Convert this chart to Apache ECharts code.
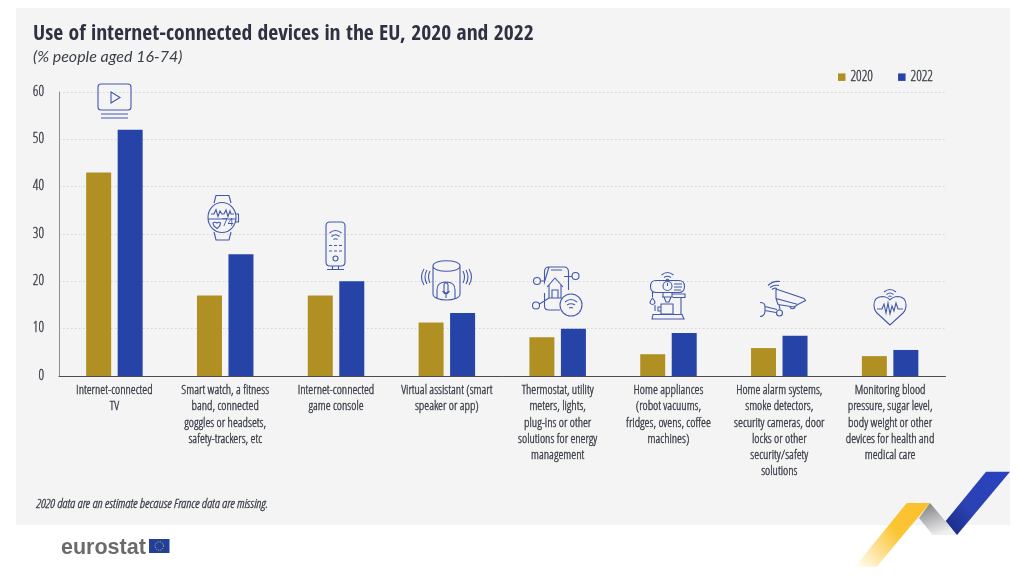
<!DOCTYPE html>
<html><head><meta charset="utf-8">
<style>html,body{margin:0;padding:0;background:#fff}#c{width:1031px;height:581px}</style>
<script src="https://cdn.jsdelivr.net/npm/echarts@6/dist/echarts.min.js"></script>
</head><body><div id="c"></div>
<script>
const categories = [
 "Internet-connected\nTV",
 "Smart watch, a fitness\nband, connected\ngoggles or headsets,\nsafety-trackers, etc",
 "Internet-connected\ngame console",
 "Virtual assistant (smart\nspeaker or app)",
 "Thermostat, utility\nmeters, lights,\nplug-ins or other\nsolutions for energy\nmanagement",
 "Home appliances\n(robot vacuums,\nfridges, ovens, coffee\nmachines)",
 "Home alarm systems,\nsmoke detectors,\nsecurity cameras, door\nlocks or other\nsecurity/safety\nsolutions",
 "Monitoring blood\npressure, sugar level,\nbody weight or other\ndevices for health and\nmedical care"
];
const values2020 = [43, 17, 17, 11.3, 8.2, 4.6, 5.9, 4.2];
const values2022 = [52, 25.7, 20, 13.3, 10, 9.1, 8.5, 5.5];
const BOLD = '"Open Sans Condensed","Roboto Condensed","Liberation Sans",sans-serif';
const FONT = '"Open Sans Condensed Light","Roboto Condensed","Liberation Sans",sans-serif';
const INK = '#3a3e47', ICON = '#4358ad';
const weight = {textBorderColor:INK,textBorderWidth:0.35};

const iconPaths = [
 'M101 84H128Q131 84 131 87V107Q131 110 128 110H101Q98 110 98 107V87Q98 84 101 84ZM111 92L120 97.5L111 103ZM101 114H128M101 118H128',
 'M236 217.5A14 15 0 1 1 208 217.5A14 15 0 1 1 236 217.5ZM214 203L216 195.5H229L231 203M214 232L216 240H229L231 232M236 214H238.5V222H236M208.5 219H235.5M211 214H214L216 209.5L218 216.5L220 211L222 214H224L226 210L228 216.5L230 211L231 214H234M213 223Q215 221.5 217 223Q219 221.5 220.5 223Q220.5 226 217 228.5Q213 226 213 223Z',
 'M330 222H341Q345 222 345 226V262Q345 266 341 266H330Q326 266 326 262V226Q326 222 330 222ZM329.5 233Q335.5 228 341.5 233M331.5 236.5Q335.5 233 339.5 236.5M333.500 239.5Q335.5 238 337.5 239.5M329 245.5H332M334 245.5H337M339 245.5H342M329 251H332M334 251H337M339 251H342M338 258.5A2.5 2.5 0 1 1 333 258.5A2.5 2.5 0 1 1 338 258.5ZM332.5 266V269M338.5 266V269M327 269.500H344',
 'M433 266C433 259 460 259 460 266V294C460 302 433 302 433 294ZM433 266C433 273 460 273 460 266M437 299V290Q437 282 446 282Q455 282 455 290V299M444 285Q444 283 446 283Q448 283 448 285V291Q448 293 446 293Q444 293 444 291ZM442.5 291Q446 297 449.5 291M446 294V298M430 271Q427 277 430 283M427 270Q423 277 427 284M424 269Q419 277 424 285M463 271Q466 277 463 283M466 270Q470 277 466 284M469 269Q474 277 469 285',
 'M549 267H564Q568.5 267 568.5 272V290M544.5 282V272Q544.5 267 549 267ZM551 270H562M544.5 293V306Q544.5 310 549 310H560M540.500 281H544.500M564 276.500H572M579 276A3.5 3.5 0 1 1 572 276A3.5 3.5 0 1 1 579 276ZM540.5 281A3.5 3.5 0 1 1 533.5 281A3.5 3.5 0 1 1 540.5 281ZM539.5 305.5A3.5 3.5 0 1 1 532.5 305.5A3.5 3.5 0 1 1 539.5 305.5ZM539.5 304L549 298M547 287L555 278L563 287M549 285V298H561V285M552 298V290H558V298M582 305A11 11 0 1 1 560 305A11 11 0 1 1 582 305ZM565 302Q571 297 577 302M567 305Q571 302.500 575 305M569 308Q571 307 573 308',
 'M656 280.5H679Q684.5 280.5 684.5 286.5Q684.5 292.5 679 292.5H656Q650.5 292.5 650.5 286.5Q650.5 280.5 656 280.5ZM672 286A4.5 4.5 0 1 1 663 286A4.5 4.5 0 1 1 672 286ZM667.5 283V286M674 284H682M674 287H682M674 290H681M663 292.5V297H672V292.5M662 297H673M664 297L666 302H669L671 297M672 294H685V297.5H673M681 297.5V314M661 304H673V314H661ZM661 307H658V311H661M655 305V311M653 314.5H682L684 319H652ZM652.5 292V297M652.5 298Q650 301 650 303Q652.5 306 655 303Q655 301 652.5 298ZM661.500 275Q667.500 270 673.500 275M664 277.500Q667.500 275 671 277.500M666 279.500Q667.500 279 669 279.500',
 'M776 289L804 298.5L805.500 300.500L798 304.500L776 298.500ZM776 298.500L778 304.500L794 307L798 304.500M779 304.500L780 309.500M790 306A2.500 2.500 0 1 0 795 306.500M782.500 313A3 3 0 1 1 776.500 313A3 3 0 1 1 782.500 313ZM777 309.500L765 306.500M776 312.500L765 310.500M760 302.500Q765 302.500 765 306.500V310.500Q765 316.500 760 316.500M768 285.500Q773 280.500 780 281.500M770 287.500Q774 284.500 779 285.500M772 289.500Q774 287.500 777 288.500',
 'M890 325L877 313Q874 310 874 305Q874 297 882 296.500Q887 296.500 890 300Q893 296.500 898 296.500Q906 297 906 305Q906 310 903 313ZM877 309H882L884 304L886 313L888 303L890 314L892 306L894 311L896 303L898 309H903M884 292Q890 287 896 292M886.500 294.500Q890 291.500 893.500 294.500M888.500 296.500Q890 295.500 891.500 296.500'
];
const icons = iconPaths.map((d,i)=>{
  const name='deviceIcon'+i;
  echarts.graphic.registerShape(name, echarts.graphic.extendPath(d));
  return {type:name,shape:{},style:{fill:'none',stroke:ICON,lineWidth:1.1},silent:true,z:5};
});

const chart = echarts.init(document.getElementById('c'), null, {renderer:'canvas'});
chart.setOption({
 animation:false,
 backgroundColor:'#fff',
 textStyle:{fontFamily:FONT},
 title:[
  {text:'Use of internet-connected devices in the EU, 2020 and 2022',left:33,top:23,padding:0,
   textStyle:{fontFamily:BOLD,fontSize:21.6,fontWeight:'bold',color:'#2c3240'}},
  {text:'(% people aged 16-74)',left:33,top:49,padding:0,
   textStyle:{fontFamily:'Lato,"Open Sans",sans-serif',fontSize:16,fontStyle:'italic',fontWeight:'normal',color:INK}},
  {text:'2020 data are an estimate because France data are missing.',left:36,top:498,padding:0,
   textStyle:{fontFamily:FONT,fontSize:13,fontStyle:'italic',fontWeight:'normal',color:INK,...weight}}
 ],
 legend:{left:838,top:70,padding:0,itemWidth:7.5,itemHeight:7.5,itemGap:25,icon:'rect',
   data:['2020','2022'],
   textStyle:{fontFamily:FONT,fontSize:14,color:INK,...weight}},
 grid:{left:59,right:85.5,top:92,bottom:205,containLabel:false},
 xAxis:{type:'category',data:categories,
   axisLine:{show:true,lineStyle:{color:'#4a4d55',width:1}},axisTick:{show:false},
   axisLabel:{interval:0,color:INK,fontFamily:FONT,fontSize:12.5,lineHeight:16.1,margin:7,align:'center',verticalAlign:'top',...weight},
   splitLine:{show:false}},
 yAxis:{type:'value',min:0,max:60,interval:10,
   axisLine:{show:true,lineStyle:{color:'#8a8d92',width:1}},axisTick:{show:false},
   axisLabel:{color:INK,fontFamily:FONT,fontSize:14,margin:15,...weight},
   splitLine:{show:true,lineStyle:{color:'#d2d4d6',type:[1.5,2.5],width:1}}},
 series:[
  {name:'2020',type:'bar',data:values2020,barWidth:25,barGap:'26%',itemStyle:{color:'#b09022'}},
  {name:'2022',type:'bar',data:values2022,barWidth:25,itemStyle:{color:'#2644a7'}}
 ],
 graphic:[
  {type:'rect',shape:{x:16,y:8,width:994,height:517},style:{fill:'#f4f4f4'},z:-100,silent:true},
  ...icons,
  {type:'text',x:222,y:218.5,silent:true,z:5,style:{text:'74',font:'10px "Open Sans",sans-serif',fill:ICON}},
  {type:'polygon',shape:{points:[[986,471.7],[1010,471.7],[957,535],[945.7,521]]},z:3,silent:true,
    style:{fill:new echarts.graphic.LinearGradient(1,0,0,1,[{offset:0,color:'#2a42c0'},{offset:0.6,color:'#2a42b4'},{offset:1,color:'#1a2a80'}])}},
  {type:'polygon',shape:{points:[[930,503],[919,518],[932.7,535],[957,535]]},z:2,silent:true,
    style:{fill:new echarts.graphic.LinearGradient(0.2,0,0.5,1,[{offset:0,color:'#808084'},{offset:1,color:'#f0f0f0'}])}},
  {type:'polygon',shape:{points:[[906.7,503],[930,503],[876.7,566.7],[855,566.7]]},z:3,silent:true,
    style:{fill:new echarts.graphic.LinearGradient(1,0,0,1,[{offset:0,color:'#fbc02a'},{offset:0.45,color:'#fbc535'},{offset:1,color:'#ffffff'}])}},
  {type:'text',x:61,y:537,silent:true,style:{text:'eurostat',font:'bold 21.5px "Liberation Sans",sans-serif',fill:'#6b6b6e'}},
  {type:'rect',shape:{x:149,y:539,width:20.5,height:14},style:{fill:'#22409a'},silent:true},
  {type:'circle',shape:{cx:159.3,cy:546,r:4.2},style:{fill:'none',stroke:'#d9c75a',lineWidth:1,lineDash:[1,1.2]},silent:true}
 ]
});
</script></body></html>
